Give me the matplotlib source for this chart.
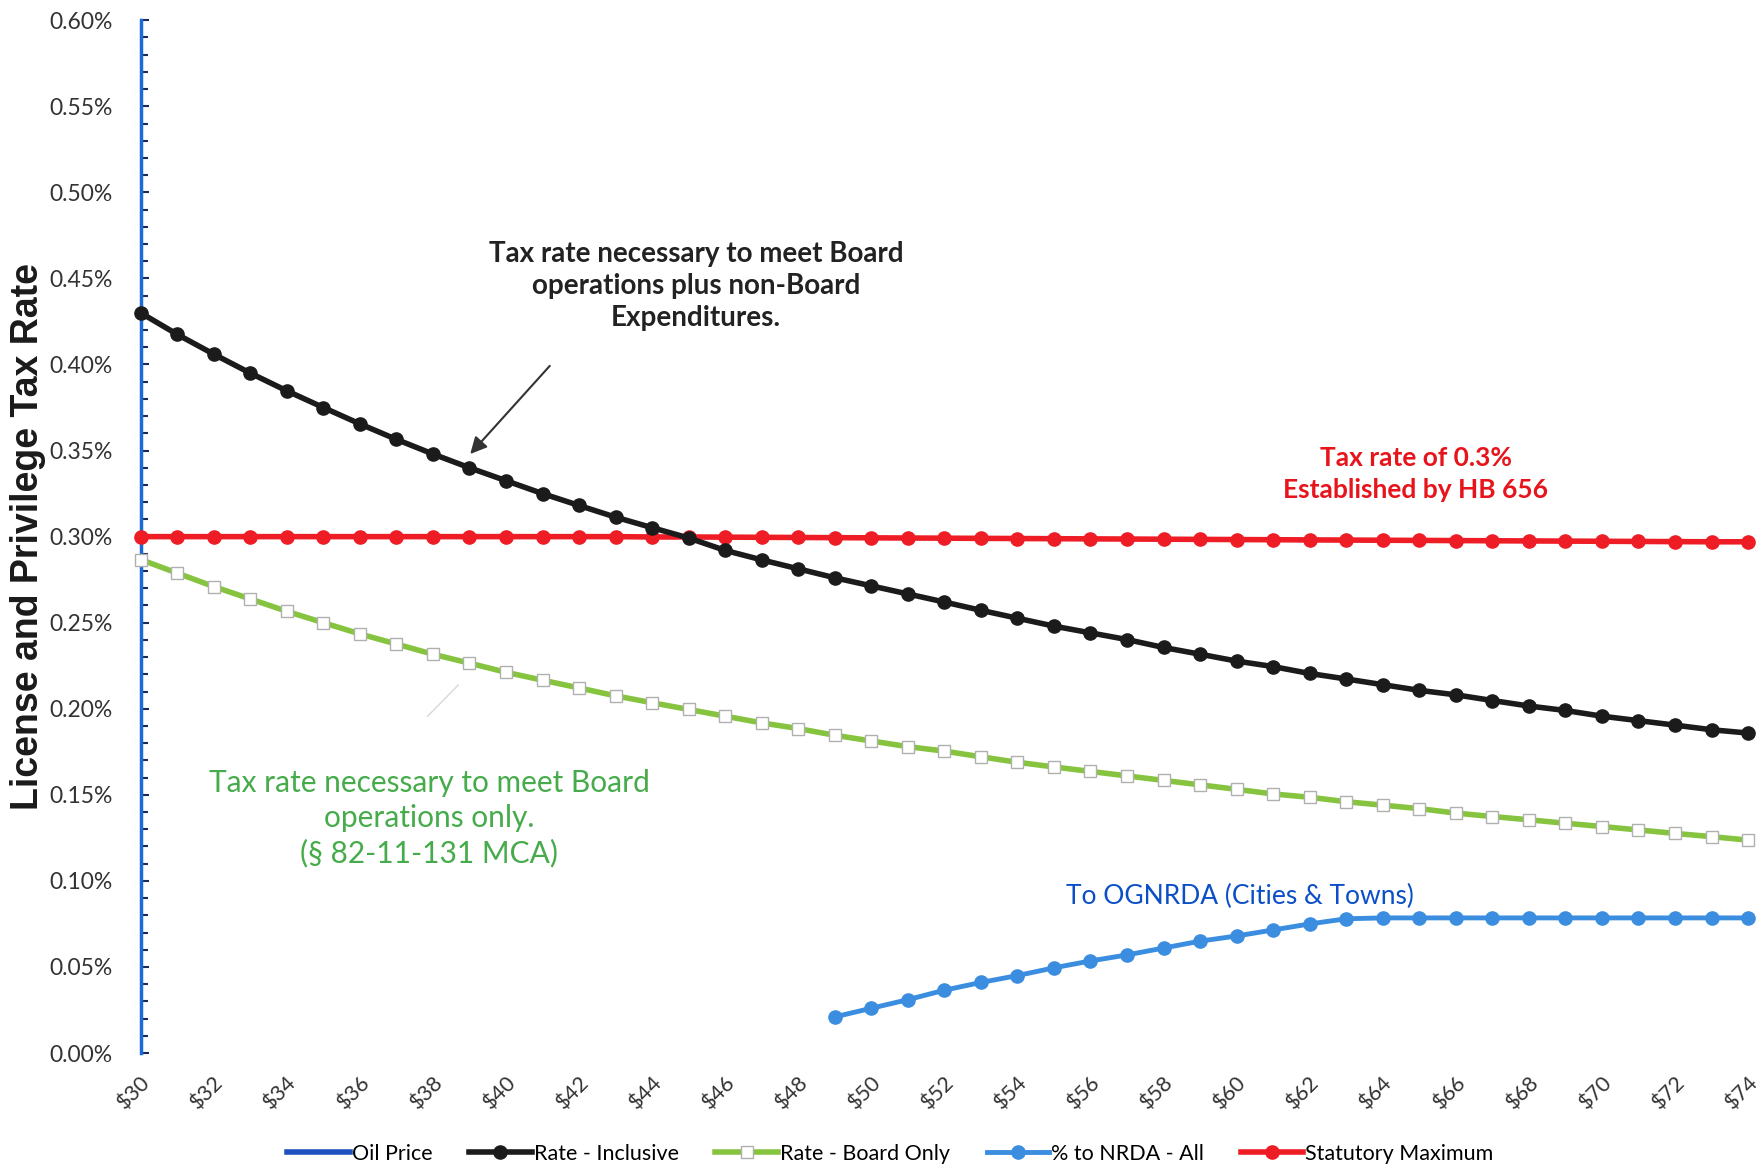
import numpy as np
import matplotlib
matplotlib.use("Agg")
import matplotlib.pyplot as plt
from matplotlib.ticker import MultipleLocator, FuncFormatter

# oil price, $ per barrel
price = np.arange(30, 75)

# tax rate, in percent
rate_inclusive = [
    0.430, 0.4175, 0.4060, 0.3950, 0.3847, 0.3750, 0.3655, 0.3565, 0.3480, 0.3400,
    0.3325, 0.3250, 0.3181, 0.3113, 0.3052, 0.2992, 0.2920, 0.2865, 0.2813, 0.2761,
    0.2714, 0.2667, 0.2620, 0.2572, 0.2526, 0.2480, 0.2441, 0.2402, 0.2356, 0.2317,
    0.2277, 0.2245, 0.2205, 0.2173, 0.2140, 0.2107, 0.2081, 0.2048, 0.2016, 0.1990,
    0.1957, 0.1931, 0.1905, 0.1878, 0.1859,
]
rate_board = [
    0.2867, 0.2788, 0.2710, 0.2638, 0.2566, 0.2500, 0.2435, 0.2376, 0.2317, 0.2265,
    0.2212, 0.2166, 0.2121, 0.2075, 0.2035, 0.1996, 0.1957, 0.1918, 0.1885, 0.1846,
    0.1813, 0.1780, 0.1754, 0.1721, 0.1689, 0.1662, 0.1636, 0.1610, 0.1584, 0.1558,
    0.1532, 0.1505, 0.1486, 0.1460, 0.1440, 0.1420, 0.1394, 0.1374, 0.1355, 0.1335,
    0.1316, 0.1296, 0.1276, 0.1257, 0.1237,
]
nrda = [
    np.nan, np.nan, np.nan, np.nan, np.nan, np.nan, np.nan, np.nan, np.nan, np.nan,
    np.nan, np.nan, np.nan, np.nan, np.nan, np.nan, np.nan, np.nan, np.nan, 0.0210,
    0.0260, 0.0310, 0.0365, 0.0410, 0.0450, 0.0495, 0.0535, 0.0570, 0.0610, 0.0650,
    0.0680, 0.0715, 0.0750, 0.0780, 0.0785, 0.0785, 0.0785, 0.0785, 0.0785, 0.0785,
    0.0785, 0.0785, 0.0785, 0.0785, 0.0785,
]
stat_max = [
    0.3000, 0.3000, 0.3000, 0.3000, 0.3000, 0.3000, 0.3000, 0.3000, 0.3000, 0.3000,
    0.3000, 0.3000, 0.3000, 0.3000, 0.2998, 0.2998, 0.2997, 0.2996, 0.2995, 0.2994,
    0.2993, 0.2992, 0.2991, 0.2990, 0.2989, 0.2988, 0.2987, 0.2986, 0.2985, 0.2984,
    0.2983, 0.2982, 0.2981, 0.2980, 0.2979, 0.2978, 0.2977, 0.2976, 0.2975, 0.2974,
    0.2973, 0.2972, 0.2971, 0.2970, 0.2970,
]

xtick_vals = np.arange(30, 75, 2)
xtick_labels = ["$%d" % v for v in xtick_vals]

calibri = ["Lato", "DejaVu Sans"]

fig = plt.figure(figsize=(17.65, 11.69), dpi=100)
ax = fig.add_axes([0.0797, 0.0992, 0.9107, 0.8835])

# series
ax.plot([], [], color="#2050c0", lw=4, label="Oil Price")
ax.plot(price, rate_inclusive, color="#1b1b1b", lw=4, marker="o", ms=9.5,
        label="Rate - Inclusive", clip_on=False, zorder=4)
ax.plot(price, rate_board, color="#86c440", lw=4, marker="s", ms=8,
        mfc="white", mec="#b0b0b0", mew=1, label="Rate - Board Only",
        clip_on=False, zorder=3)
ax.plot(price, nrda, color="#3b8de0", lw=3.5, marker="o", ms=9.5,
        label="% to NRDA - All", clip_on=False, zorder=3)
ax.plot(price, stat_max, color="#ee1c25", lw=4, marker="o", ms=9.5,
        label="Statutory Maximum", clip_on=False, zorder=3)

ax.set_xlim(30, 74)
ax.set_ylim(0, 0.60)

ax.yaxis.set_major_locator(MultipleLocator(0.05))
ax.yaxis.set_minor_locator(MultipleLocator(0.01))
ax.yaxis.set_major_formatter(FuncFormatter(lambda v, p: "%.2f%%" % v))
ax.tick_params(axis="y", which="both", direction="in", color="#1a2a5a",
               width=1.5, labelsize=16.5, labelcolor="#333333", pad=20)
ax.tick_params(axis="y", which="major", length=6)
ax.tick_params(axis="y", which="minor", length=5)

ax.set_xticks(xtick_vals)
ax.set_xticklabels(xtick_labels, rotation=45, ha="right",
                   rotation_mode="anchor", fontsize=15.5, color="#333333",
                   family=calibri)
ax.tick_params(axis="x", length=0, pad=14)
for lab in ax.get_yticklabels():
    lab.set_family(calibri)

for s in ["top", "right", "bottom"]:
    ax.spines[s].set_visible(False)
ax.spines["left"].set_color("#1a6ad8")
ax.spines["left"].set_linewidth(2.5)

fig.text(0.016, 0.541, "License and Privilege Tax Rate", rotation=90,
         ha="center", va="center", fontsize=27, fontweight="bold",
         family="Liberation Sans", color="#1a1a1a")

# annotations
ax.text(45.2, 0.4455, "Tax rate necessary to meet Board\noperations plus non-Board\nExpenditures.",
        ha="center", va="center", fontsize=20, fontweight="bold",
        family=calibri, color="#222222", linespacing=1.3)
ax.annotate("", xy=(38.97, 0.3468), xytext=(41.25, 0.4004),
            arrowprops=dict(arrowstyle="-|>", color="#333333", lw=1.5,
                            mutation_scale=25))

ax.text(64.9, 0.3366, "Tax rate of 0.3%\nEstablished by HB 656",
        ha="center", va="center", fontsize=19, fontweight="bold",
        family=calibri, color="#e8141c", linespacing=1.4)

ax.text(37.9, 0.1365, "Tax rate necessary to meet Board\noperations only.\n(\u00a7 82-11-131 MCA)",
        ha="center", va="center", fontsize=21.5, family=calibri,
        color="#46ab4a", linespacing=1.3)
ax.annotate("", xy=(37.8, 0.1945), xytext=(38.75, 0.2150),
            arrowprops=dict(arrowstyle="-", color="#dddddd", lw=1.2))

ax.text(60.1, 0.091, "To OGNRDA (Cities & Towns)", ha="center", va="center",
        fontsize=19, family=calibri, color="#0b4fc8")

fig.legend(loc="center", bbox_to_anchor=(0.5045, 0.013), ncol=5,
           frameon=False, handlelength=2.9, handletextpad=0.1,
           columnspacing=1.7, prop={"family": calibri, "size": 15.5})

fig.savefig("out.png", dpi=100)
